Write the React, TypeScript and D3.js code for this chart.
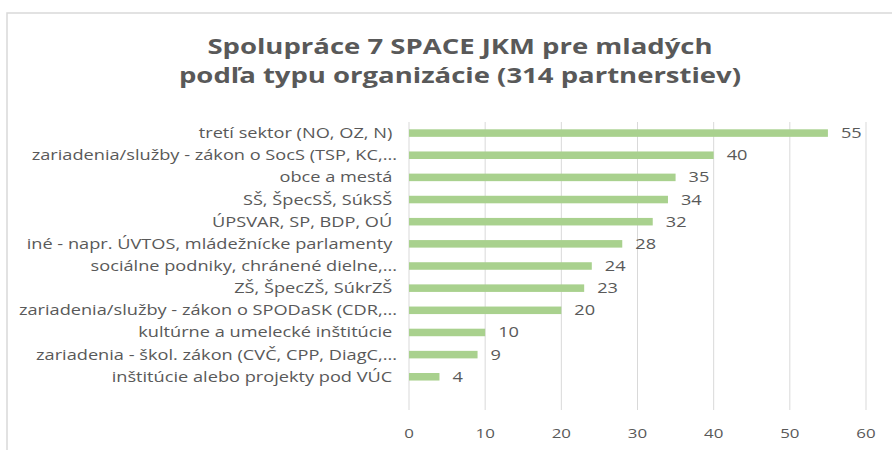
import React, {useEffect, useRef} from 'react';
import * as d3 from "d3";

const titleLines = [
  "Spolupráce 7 SPACE JKM pre mladých",
  "podľa typu organizácie (314 partnerstiev)"
]

const categories = [
  "tretí sektor (NO, OZ, N) ",
  "zariadenia/služby - zákon o SocS (TSP, KC,...",
  "obce a mestá ",
  "SŠ, ŠpecSŠ, SúkSŠ ",
  "ÚPSVAR, SP, BDP, OÚ ",
  "iné - napr. ÚVTOS, mládežnícke parlamenty ",
  "sociálne podniky, chránené dielne,...",
  "ZŠ, ŠpecZŠ, SúkrZŠ ",
  "zariadenia/služby - zákon o SPODaSK (CDR,...",
  "kultúrne a umelecké inštitúcie ",
  "zariadenia - škol. zákon (CVČ, CPP, DiagC,...",
  "inštitúcie alebo projekty pod VÚC "
]

const values = [55, 40, 35, 34, 32, 28, 24, 23, 20, 10, 9, 4]

const xTicks = [0, 10, 20, 30, 40, 50, 60]

const App = () => {

  const d3Chart = useRef(null)

  useEffect(() => {

    const width = 892
    const height = 450
    const textColor = "#595959"
    const stretch = 1.3

    const svg = d3.select(d3Chart.current)
    .attr("width", width)
    .attr("height", height)

    svg.selectAll("*").remove()

    svg.append("rect")
    .attr("width", width)
    .attr("height", height)
    .attr("fill", "white")

    // chart frame, runs off the right and bottom edges
    svg.append("rect")
    .attr("x", 7)
    .attr("y", 13)
    .attr("width", width + 20)
    .attr("height", height + 20)
    .attr("fill", "white")
    .attr("stroke", "#d9d9d9")
    .attr("stroke-width", 1.5)

    const plotTop = 122
    const plotBottom = 410
    const step = (plotBottom - plotTop) / (categories.length + 1)

    const xScale = d3.scaleLinear()
    .domain([0, 60])
    .range([409, 866])

    const yScale = d3.scaleBand()
    .domain(categories)
    .range([plotTop, plotTop + step * categories.length])
    .paddingInner(0.66)
    .paddingOuter(0.33)

    // title
    svg.append("g")
    .selectAll("text")
    .data(titleLines)
    .join("text")
    .attr("transform", (d, i) => `translate(460, ${54 + i * 29}) scale(1.25, 1)`)
    .attr("text-anchor", "middle")
    .attr("font-family", "Open Sans")
    .attr("font-weight", "bold")
    .attr("font-size", 22)
    .attr("fill", textColor)
    .text(d => d)

    // gridlines
    svg.append("g")
    .selectAll("line")
    .data(xTicks)
    .join("line")
    .attr("x1", d => xScale(d))
    .attr("x2", d => xScale(d))
    .attr("y1", plotTop)
    .attr("y2", plotBottom)
    .attr("stroke", "#d9d9d9")
    .attr("stroke-width", 1)

    // x tick labels
    svg.append("g")
    .selectAll("text")
    .data(xTicks)
    .join("text")
    .attr("transform", d => `translate(${xScale(d)}, 438) scale(${stretch}, 1)`)
    .attr("text-anchor", "middle")
    .attr("font-family", "Open Sans")
    .attr("font-size", 13)
    .attr("fill", textColor)
    .text(d => d)

    // bars
    svg.append("g")
    .selectAll("rect")
    .data(values)
    .join("rect")
    .attr("x", xScale(0))
    .attr("y", (d, i) => yScale(categories[i]))
    .attr("width", d => xScale(d) - xScale(0))
    .attr("height", yScale.bandwidth())
    .attr("fill", "#a9d18e")

    // value labels
    svg.append("g")
    .selectAll("text")
    .data(values)
    .join("text")
    .attr("transform", (d, i) => `translate(${xScale(d) + 13}, ${yScale(categories[i]) + yScale.bandwidth() / 2 + 5}) scale(${stretch}, 1)`)
    .attr("font-family", "Open Sans")
    .attr("font-size", 14)
    .attr("fill", textColor)
    .text(d => d)

    // category labels
    svg.append("g")
    .selectAll("text")
    .data(categories)
    .join("text")
    .attr("transform", d => `translate(397, ${yScale(d) + yScale.bandwidth() / 2 + 5}) scale(${stretch}, 1)`)
    .attr("text-anchor", "end")
    .attr("font-family", "Open Sans")
    .attr("font-size", 14)
    .attr("fill", textColor)
    .style("white-space", "pre")
    .text(d => d)

  }, []);

  return (
    <div id={"d3BarChart"} style={{position: "absolute", left: 0, top: 0}}>
      <svg ref={d3Chart} style={{display: "block"}}/>
    </div>
  );
};

export default App;
